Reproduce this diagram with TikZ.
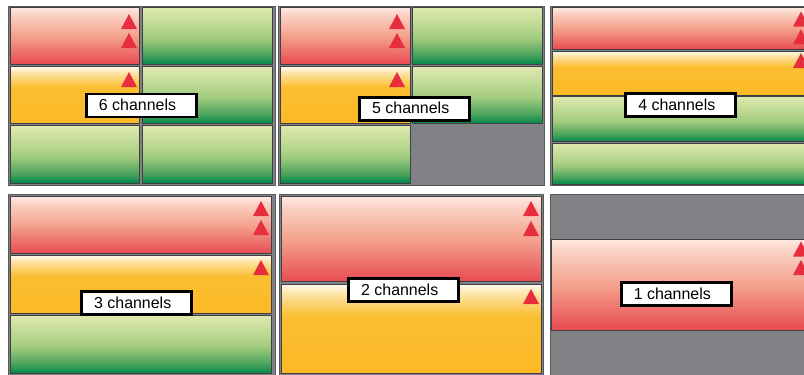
\documentclass[tikz,border=0pt]{standalone}
\usepackage{fontspec}
\setmainfont{Liberation Sans}
\definecolor{pgray}{HTML}{808285}
\definecolor{pframe}{HTML}{58595B}
\definecolor{cellb}{HTML}{404042}
\definecolor{tred}{HTML}{E62E3F}
\definecolor{rT}{HTML}{FDE9E2}
\definecolor{rL}{HTML}{FAD0C2}
\definecolor{rM}{HTML}{F4A28E}
\definecolor{rB}{HTML}{E84B52}
\definecolor{yT}{HTML}{FFFAF0}
\definecolor{yL}{HTML}{FDE2A0}
\definecolor{yM}{HTML}{FBBE30}
\definecolor{yB}{HTML}{FBB928}
\definecolor{gT}{HTML}{E0E9B0}
\definecolor{gL}{HTML}{C5DD9A}
\definecolor{gM}{HTML}{A2CC7E}
\definecolor{gD}{HTML}{4AA25C}
\definecolor{gB}{HTML}{00894A}
\pgfdeclareverticalshading{redsh}{100bp}{color(0bp)=(rB); color(25bp)=(rB); color(50bp)=(rM); color(68bp)=(rL); color(75bp)=(rT); color(100bp)=(rT)}
\pgfdeclareverticalshading{yelsh}{100bp}{color(0bp)=(yB); color(25bp)=(yB); color(57bp)=(yM); color(69bp)=(yL); color(75bp)=(yT); color(100bp)=(yT)}
\pgfdeclareverticalshading{grnsh}{100bp}{color(0bp)=(gB); color(25bp)=(gB); color(33bp)=(gD); color(48bp)=(gM); color(63bp)=(gL); color(75bp)=(gT); color(100bp)=(gT)}
\newcommand\alarmtri[2]{\fill[tred] (#1,#2+15) -- (#1+16,#2+15) -- (#1+8,#2) -- cycle;}
\begin{document}
\begin{tikzpicture}[x=1bp,y=-1bp,
  panel/.style={fill=pgray, draw=pframe, line width=1.6bp},
  redcell/.style={shade, shading=redsh, draw=cellb, line width=0.9bp},
  yelcell/.style={shade, shading=yelsh, draw=cellb, line width=0.9bp},
  grncell/.style={shade, shading=grnsh, draw=cellb, line width=0.9bp},
  chlabel/.style={draw=black, fill=white, line width=2.8bp, minimum width=110bp,
    minimum height=23bp, inner sep=0pt, text=black, font=\fontsize{16}{18}\selectfont}]
\useasboundingbox (0,0) rectangle (804,374);
\clip (0,0) rectangle (804,374);
\fill[white] (0,0) rectangle (804,374);
% panel 1 : 6 channels
\path[panel] (8.5,6.5) rectangle (275.5,185.5);
\path[redcell] (10.7,7.5) rectangle (139.5,64);
\path[grncell] (142.7,7.5) rectangle (272.7,64);
\path[yelcell] (10.7,66.5) rectangle (139.5,123.5);
\path[grncell] (142.7,66.5) rectangle (272.7,123.5);
\path[grncell] (10.7,125.8) rectangle (139.5,183);
\path[grncell] (142.7,125.8) rectangle (272.7,183);
\alarmtri{121}{14}\alarmtri{121}{33}\alarmtri{121}{72}
% panel 2 : 5 channels
\path[panel] (278.5,6.5) rectangle (544.5,185.5);
\path[redcell] (280.7,7.5) rectangle (410,64);
\path[grncell] (412.7,7.5) rectangle (542.5,64);
\path[yelcell] (280.7,66.5) rectangle (410,123.5);
\path[grncell] (412.7,66.5) rectangle (542.5,123.5);
\path[grncell] (280.7,125.8) rectangle (410,183);
\alarmtri{389}{14}\alarmtri{389}{33}\alarmtri{389}{72}
% panel 3 : 4 channels
\path[panel] (550.5,6.5) rectangle (812,185.5);
\path[redcell] (552.7,7.5) rectangle (812,49.3);
\path[yelcell] (552.7,51) rectangle (812,95);
\path[grncell] (552.7,96.7) rectangle (812,141.7);
\path[grncell] (552.7,143.3) rectangle (812,184);
\alarmtri{793}{11.5}\alarmtri{793}{29.3}\alarmtri{793}{53}
% panel 4 : 3 channels
\path[panel] (8.5,194.5) rectangle (275.5,378);
\path[redcell] (10.7,196.7) rectangle (271.7,253.3);
\path[yelcell] (10.7,255) rectangle (271.7,313.3);
\path[grncell] (10.7,315) rectangle (271.7,373.3);
\alarmtri{253}{201}\alarmtri{253}{220}\alarmtri{253}{260}
% panel 5 : 2 channels
\path[panel] (279.5,194.5) rectangle (543.5,378);
\path[redcell] (281.7,196.7) rectangle (541.7,281.7);
\path[yelcell] (281.7,284) rectangle (541.7,373.3);
\alarmtri{523}{201}\alarmtri{523}{221}\alarmtri{523}{289}
% panel 6 : 1 channel
\path[panel] (550.5,194.5) rectangle (812,378);
\path[redcell] (551.7,239) rectangle (812,330);
\alarmtri{793}{241.5}\alarmtri{793}{260}
% labels
\node[chlabel] (l6) at (141.5,105.5) {\raisebox{1.5bp}{\hspace*{-8bp}6 channels}};
\node[chlabel] (l5) at (414.7,108.7) {\raisebox{1.5bp}{\hspace*{-8bp}5 channels}};
\node[chlabel] (l4) at (680.8,105) {\raisebox{1.5bp}{\hspace*{-8bp}4 channels}};
\node[chlabel] (l3) at (136.7,303.3) {\raisebox{1.5bp}{\hspace*{-8bp}3 channels}};
\node[chlabel] (l2) at (403.7,290) {\raisebox{1.5bp}{\hspace*{-8bp}2 channels}};
\node[chlabel] (l1) at (676.3,294.3) {\raisebox{1.5bp}{\hspace*{-8bp}1 channels}};
\end{tikzpicture}
\end{document}
